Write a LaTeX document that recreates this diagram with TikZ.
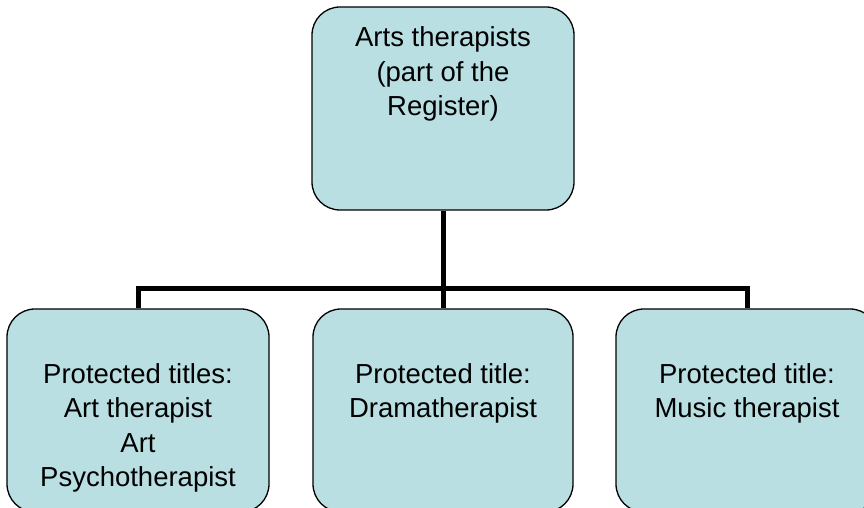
\documentclass[tikz,border=0pt]{standalone}
\usepackage{fontspec}
\setmainfont{Liberation Sans}
\definecolor{boxfill}{RGB}{185,223,227}
\begin{document}
\begin{tikzpicture}[x=1pt,y=1pt,
  box/.style={draw=black,line width=1.3pt,fill=boxfill,rounded corners=28pt,minimum width=262pt,minimum height=203pt,inner sep=0pt},
  txt/.style={align=center,inner sep=0pt,anchor=north,font=\fontsize{27.5}{34.5}\selectfont},
  conn/.style={line width=5pt}]
\useasboundingbox (0,0) rectangle (864,508);
\clip (0,0) rectangle (864,508);
\node[box] (top) at (443,399.5) {};
\node[box] (left) at (138,97.5) {};
\node[box,minimum width=260pt] (mid) at (443,97.5) {};
\node[box] (right) at (747,97.5) {};
\node[txt] (ttop) at (443,481.5) {Arts therapists\\(part of the\\Register)};
\node[txt] (tleft) at (138,145) {Protected titles:\\Art therapist\\Art\\Psychotherapist};
\node[txt] (tmid) at (443,145) {Protected title:\\Dramatherapist};
\node[txt] (tright) at (747,145) {Protected title:\\Music therapist};
\coordinate (bar) at (443,219);
\draw[conn] (top.south) -- (bar);
\draw[conn] (left.north) |- (bar);
\draw[conn] (right.north) |- (bar);
\draw[conn] (bar) -- (mid.north);
\end{tikzpicture}
\end{document}
